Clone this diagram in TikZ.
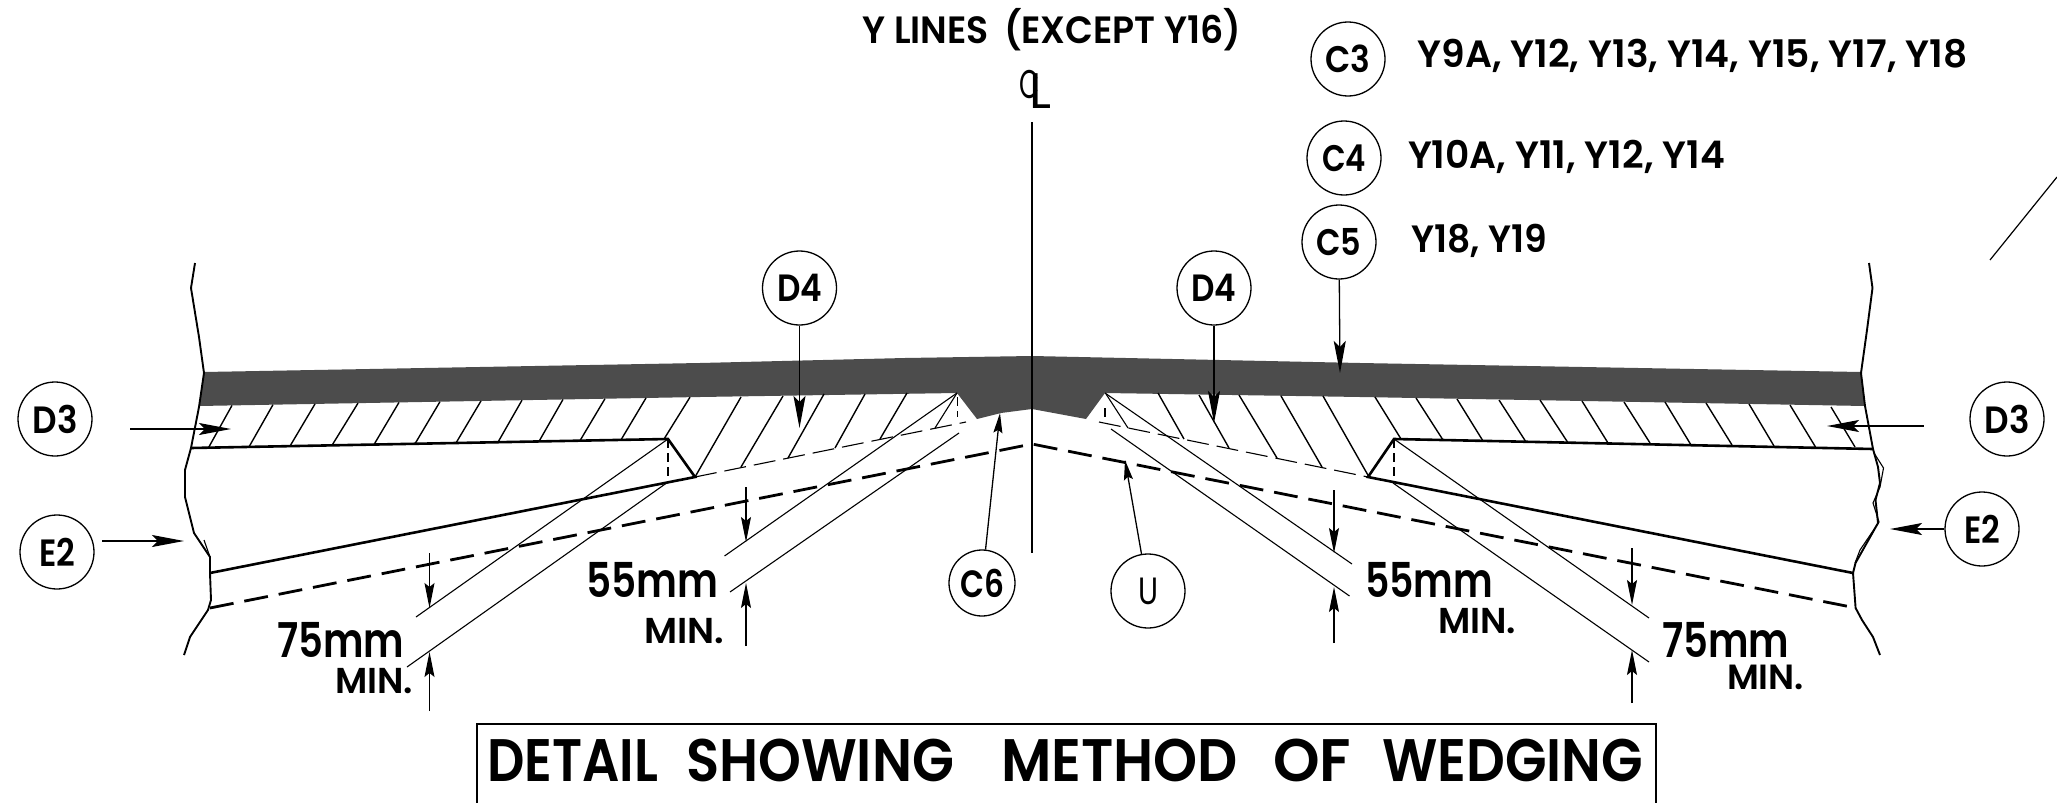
\documentclass[tikz,border=0pt]{standalone}
\usepackage{fontspec}
\usepackage{graphicx}
\usetikzlibrary{arrows.meta}
\setmainfont{Poppins}
\newfontfamily\pf{Poppins SemiBold}
\newfontfamily\pfl{Poppins}
% fitted text: width, font size, text
\newcommand{\fit}[3]{\resizebox{#1pt}{\height}{\fontsize{#2pt}{#2pt}\selectfont\pf #3}}
\newcommand{\fitl}[3]{\resizebox{#1pt}{\height}{\fontsize{#2pt}{#2pt}\selectfont\pfl #3}}
\tikzset{
  lbl/.style={anchor=base west,inner sep=0pt,outer sep=0pt},
  bub/.style={circle,draw=black,line width=1.3pt,fill=none,inner sep=0pt,minimum size=74pt},
  thin1/.style={line width=1.1pt},
  hatch/.style={line width=1.4pt},
  heavy/.style={line width=2.8pt,line join=miter},
  edge/.style={line width=1.9pt,line join=round},
  wedge/.style={line width=2.6pt,line join=miter},
  dimtip/.style={-{Stealth[length=25pt,width=10pt,inset=4pt]},line width=1.1pt},
  bigtip/.style={-{Stealth[length=32pt,width=12pt,inset=6pt]},line width=1.3pt},
  smalltip/.style={-{Stealth[length=20pt,width=9pt,inset=3pt]},line width=1.3pt}
}
\begin{document}
\begin{tikzpicture}[x=1pt,y=-1pt]
\useasboundingbox (0,0) rectangle (2057,803);
\fill[white] (0,0) rectangle (2057,803);

% dark band
\fill[black!70] (204,372) -- (700,363) -- (905,358) -- (1032,356) -- (1360,363) -- (1861,372)
  -- (1865,406) -- (1360,397) -- (1105,393) -- (1086,419) -- (1032,409) -- (1001,413) -- (977,419) -- (957,393) -- (700,397) -- (199,406) -- cycle;

% edges
\draw[edge] (195,263) -- (191,288) -- (199,337) -- (204,373) -- (199,407) -- (191,448) -- (185,470) -- (185,497) -- (194,533) -- (210,557) -- (210,573) -- (211,600) -- (208,610) -- (190,637) -- (184,655);
\draw[edge] (1869,263) -- (1872.5,288) -- (1867,330) -- (1861,373) -- (1865,406) -- (1873,449) -- (1878,467) -- (1880,483) -- (1875.5,500) -- (1878,523) -- (1855.5,563) -- (1853,573) -- (1855.6,608) -- (1862,620) -- (1873,637) -- (1880,655);
\draw[thin1] (1874,453) -- (1883.5,468) -- (1880,487) -- (1873,503) -- (1879,522) -- (1860,550) -- (1855,563);
\draw[thin1] (204,540) -- (210,557) -- (210,573);

% hatching left
\foreach \tx/\bx in {232/208.5,273/249,315/290,358/332,399/374,440/415,481/456,522/498,563/539,605/580,646/621,690/664}
  \draw[hatch] (\tx,{406-0.018*(\tx-199)}) -- (\bx,{448-0.0189*(\bx-191)});
\draw[hatch] (741,397) -- (695,477);
\draw[hatch] (783,396) -- (741,467);
\draw[hatch] (824,394) -- (788,458);
\draw[hatch] (865,394) -- (835,448);
\draw[hatch] (907,393) -- (880,439);
\draw[thin1] (957,393) -- (935,428);
% hatching right
\draw[thin1] (1106,394) -- (1128,428);
\draw[hatch] (1158,393) -- (1184,439);
\draw[hatch] (1199,395) -- (1229,448);
\draw[hatch] (1239,395) -- (1277,458);
\draw[hatch] (1281,396) -- (1322,467);
\draw[hatch] (1323,396) -- (1369,477);
\foreach \tx/\ty/\bx/\by in {1375/397/1401/439,1416/398/1443/440,1457/399/1483/441,1499/400/1526/442,1540/400/1567.5/442,1582/401/1608/443,1624/402/1650/443,1665/402/1691/445,1706/403/1732/445,1749/404/1774/446,1790/405/1815.5/447,1831/407/1855/447}
  \draw[hatch] (\tx,\ty) -- (\bx,\by);

% wedge outlines
\draw[wedge] (191,448) -- (668,439) -- (695,477) -- (210,573);
\draw[wedge] (1873,449) -- (1394,439) -- (1368,477) -- (1853,573);
% thin dashed
\draw[thin1,dash pattern=on 22pt off 8pt] (695,477) -- (966,422);
\draw[thin1,dash pattern=on 22pt off 8pt] (1099,422) -- (1368,477);
\draw[thin1,dash pattern=on 9pt off 5pt] (668,439) -- (668,482);
\draw[thin1,dash pattern=on 9pt off 5pt] (1394,439) -- (1394,482);
\draw[thin1,dash pattern=on 9pt off 5pt] (957.6,397) -- (957.6,417);
\draw[thin1,dash pattern=on 9pt off 5pt] (1105,408) -- (1105,417);
% thick dashed
\draw[heavy,dash pattern=on 24pt off 11pt] (210,608) -- (1032,444) -- (1856,608);

% extension lines
\draw[thin1] (668,439) -- (416,617);
\draw[thin1] (668,482) -- (407,667);
\draw[thin1] (957,393) -- (724.5,556);
\draw[thin1] (959,433) -- (730,592);
\draw[thin1] (1105,393) -- (1352,564);
\draw[thin1] (1111,429) -- (1349.5,596);
\draw[thin1] (1394,439) -- (1649,618);
\draw[thin1] (1393,483) -- (1649,662);

% centre line
\draw[line width=1.2pt] (1032,122) -- (1032,553);
% stray line
\coordinate (sa) at (1990,260); \coordinate (sb) at (2057,177);
\draw[line width=1.2pt] (sa) -- (sb);

% dimension arrows
\coordinate (d1a) at (429.5,553); \coordinate (d1b) at (429.5,608); \coordinate (d1c) at (429.5,711); \coordinate (d1d) at (429.5,652);
\coordinate (d2a) at (746,487); \coordinate (d2b) at (746,542); \coordinate (d2c) at (746,646); \coordinate (d2d) at (746,583);
\coordinate (d3a) at (1334,490); \coordinate (d3b) at (1334,553); \coordinate (d3c) at (1334,643); \coordinate (d3d) at (1334,587);
\coordinate (d4a) at (1632,548); \coordinate (d4b) at (1632,605); \coordinate (d4c) at (1632,703); \coordinate (d4d) at (1632,650);
\foreach \p/\q in {d1a/d1b,d1c/d1d,d2a/d2b,d2c/d2d,d3a/d3b,d3c/d3d,d4a/d4b,d4c/d4d}
  \draw[dimtip] (\p) -- (\q);

% bubbles
\node[bub] (D3L) at (55,419) {\fit{45}{38}{D3}};
\node[bub] (E2L) at (57,552) {\fit{36}{38}{E2}};
\node[bub] (D4L) at (799.5,288) {\fit{45}{38}{D4}};
\node[bub] (D4R) at (1214,288) {\fit{45}{38}{D4}};
\node[bub] (C3) at (1348,59) {\fit{45}{37}{C3}};
\node[bub] (C4) at (1344,158) {\fit{44}{37}{C4}};
\node[bub] (C5) at (1339,242) {\fit{45}{37}{C5}};
\node[bub,minimum size=66pt] (C6) at (982,583) {\fit{44}{38}{C6}};
\node[bub] (U) at (1148,591) {\fitl{20}{38}{U}};
\node[bub] (D3R) at (2007,419) {\fit{45}{38}{D3}};
\node[bub] (E2R) at (1982,529) {\fit{36}{38}{E2}};

% bubble arrows
\coordinate (a1) at (130,429); \coordinate (a1t) at (231,429);
\coordinate (a2) at (102,541); \coordinate (a2t) at (184,541);
\coordinate (a3) at (1923.5,426); \coordinate (a3t) at (1827,426);
\coordinate (a4t) at (1890,529);
\coordinate (a5t) at (799.5,428); \coordinate (a6t) at (1214,423);
\coordinate (a7t) at (1340,373);
\coordinate (a8t) at (1000,413); \coordinate (a9t) at (1125,460);
\draw[bigtip] (a1) -- (a1t);
\draw[bigtip] (a2) -- (a2t);
\draw[bigtip] (a3) -- (a3t);
\draw[bigtip] (E2R) -- (a4t);
\draw[bigtip] (D4L) -- (a5t);
\draw[bigtip] (D4R) -- (a6t);
\draw[bigtip] (C5) -- (a7t);
\draw[smalltip] (C6) -- (a8t);
\draw[smalltip] (U) -- (a9t);

% centre line symbol
\node[lbl] (clc) at (1019,98) {\fitl{20}{40}{C}};
\node[lbl] (cll) at (1029,108) {\fitl{22}{50}{L}};

% texts
\node[lbl] (t1) at (862.5,43) {\fit{379}{38}{Y LINES\hspace{.18em} (EXCEPT Y16)}};
\node[lbl] (t2) at (1417.5,67) {\fit{550}{38}{Y9A, Y12, Y13, Y14, Y15, Y17, Y18}};
\node[lbl] (t3) at (1408,168) {\fit{317}{38}{Y10A, Y11, Y12, Y14}};
\node[lbl] (t4) at (1411,252) {\fit{136}{38}{Y18, Y19}};
\node[lbl] (m1) at (277,657) {\fit{127}{48}{75mm}};
\node[lbl] (m2) at (335,693) {\fit{78}{36}{MIN.}};
\node[lbl] (m3) at (586,597) {\fit{132}{48}{55mm}};
\node[lbl] (m4) at (644,643) {\fit{80}{36}{MIN.}};
\node[lbl] (m5) at (1365,597) {\fit{128}{48}{55mm}};
\node[lbl] (m6) at (1438,633) {\fit{78}{36}{MIN.}};
\node[lbl] (m7) at (1662,657) {\fit{127}{48}{75mm}};
\node[lbl] (m8) at (1727,689) {\fit{77}{35}{MIN.}};

% title
\coordinate (b1) at (477,803); \coordinate (b2) at (477,724); \coordinate (b3) at (1656,724); \coordinate (b4) at (1656,803);
\draw[line width=1.5pt] (b1) -- (b2) -- (b3) -- (b4);
\node[lbl] (title) at (487,781) {\fit{171}{60}{DETAIL}\hspace{28pt}\fit{268}{60}{SHOWING}\hspace{47pt}\fit{237}{60}{METHOD}\hspace{35pt}\fit{78}{60}{OF}\hspace{31pt}\fit{261}{60}{WEDGING}};
\end{tikzpicture}
\end{document}
